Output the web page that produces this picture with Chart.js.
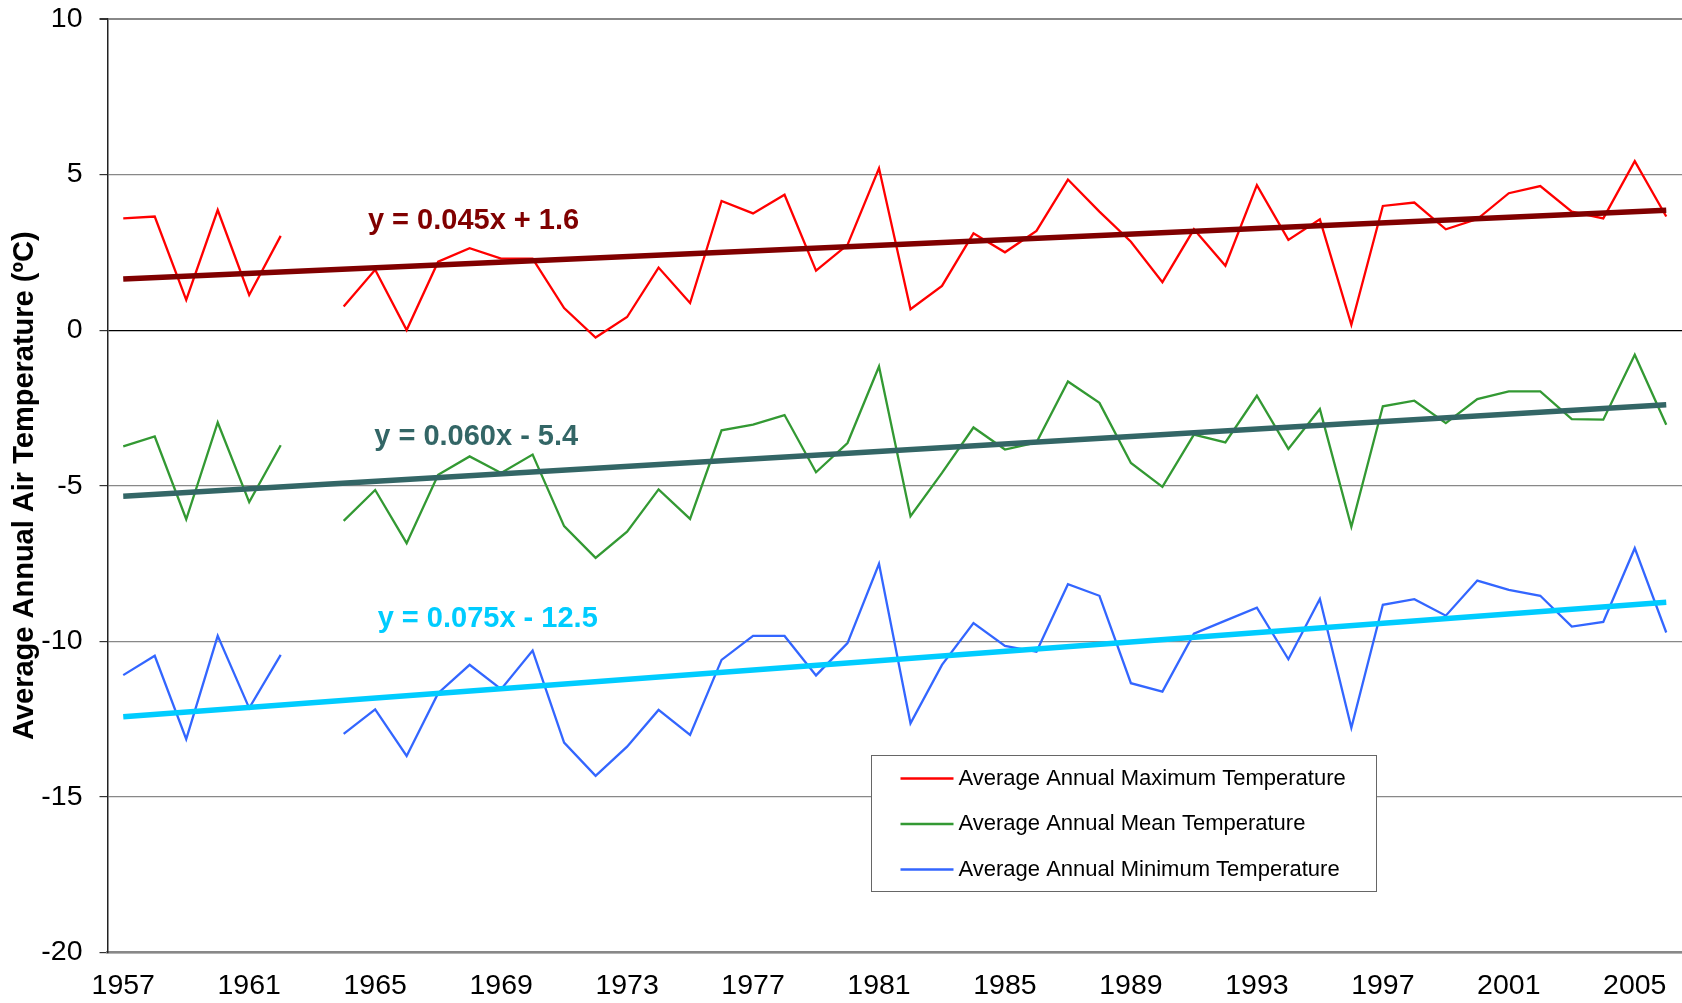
<!DOCTYPE html>
<html>
<head>
<meta charset="utf-8">
<script src="https://cdn.jsdelivr.net/npm/chart.js@4/dist/chart.umd.min.js"></script>
<style>
  html, body { margin: 0; padding: 0; background: #fff; }
  #wrap { width: 1682px; height: 1003px; position: relative; }
</style>
</head>
<body>
<div id="wrap"><canvas id="tempChart"></canvas></div>
<script>
// years on the category axis (1963 has no data)
const years = [1957, 1958, 1959, 1960, 1961, 1962, 1963, 1964, 1965, 1966,
  1967, 1968, 1969, 1970, 1971, 1972, 1973, 1974, 1975, 1976,
  1977, 1978, 1979, 1980, 1981, 1982, 1983, 1984, 1985, 1986,
  1987, 1988, 1989, 1990, 1991, 1992, 1993, 1994, 1995, 1996,
  1997, 1998, 1999, 2000, 2001, 2002, 2003, 2004, 2005, 2006];
const xTickLabels = ['1957', '1961', '1965', '1969', '1973', '1977', '1981', '1985', '1989', '1993', '1997', '2001', '2005'];

const maxTemp = [3.59, 3.65, 0.97, 3.86, 1.13, 3.03, null, 0.76, 1.94, 0.0,
  2.20, 2.63, 2.30, 2.30, 0.71, -0.24, 0.42, 2.01, 0.87, 4.15,
  3.75, 4.35, 1.91, 2.74, 5.20, 0.67, 1.42, 3.11, 2.50, 3.19,
  4.84, 3.81, 2.84, 1.54, 3.24, 2.07, 4.66, 2.90, 3.56, 0.17,
  3.99, 4.10, 3.24, 3.57, 4.40, 4.63, 3.81, 3.59, 5.43, 3.65];
const meanTemp = [-3.74, -3.42, -6.08, -2.97, -5.53, -3.70, null, -6.13, -5.14, -6.85,
  -4.65, -4.06, -4.59, -4.00, -6.30, -7.32, -6.48, -5.12, -6.07, -3.22,
  -3.04, -2.73, -4.57, -3.63, -1.17, -5.98, -4.59, -3.13, -3.84, -3.61,
  -1.65, -2.34, -4.27, -5.04, -3.36, -3.61, -2.11, -3.82, -2.54, -6.32,
  -2.45, -2.27, -2.99, -2.22, -1.97, -1.97, -2.86, -2.88, -0.79, -3.04];
const minTemp = [-11.09, -10.47, -13.15, -9.83, -12.15, -10.44, null, -12.98, -12.19, -13.69,
  -11.67, -10.76, -11.54, -10.30, -13.26, -14.33, -13.39, -12.21, -13.01, -10.60,
  -9.83, -9.83, -11.10, -10.06, -7.51, -12.64, -10.76, -9.42, -10.15, -10.34,
  -8.17, -8.54, -11.35, -11.62, -9.76, -9.34, -8.92, -10.58, -8.64, -12.78,
  -8.83, -8.65, -9.18, -8.05, -8.35, -8.54, -9.53, -9.38, -7.01, -9.72];

// linear trends, x = 1 for 1957
const trendSlope = [0.045, 0.060, 0.075];
const trendIntercept = [1.6, -5.4, -12.5];
const trendText = ['y = 0.045x + 1.6', 'y = 0.060x - 5.4', 'y = 0.075x - 12.5'];

const seriesNames = ['Average Annual Maximum Temperature', 'Average Annual Mean Temperature', 'Average Annual Minimum Temperature'];
const lineColors = ['#ff0000', '#339933', '#3366ff'];
const trendColors = ['#800000', '#336666', '#00ccff'];

function trendData(k) {
  // only the two ends, the line in between is straight
  const arr = years.map(() => null);
  const n = years.length;
  arr[0] = trendSlope[k] * 1 + trendIntercept[k];
  arr[n - 1] = trendSlope[k] * n + trendIntercept[k];
  return arr;
}

Chart.defaults.font.family = "'Liberation Sans', Arial, sans-serif";
Chart.defaults.color = '#000';

const trendLabels = {
  id: 'trendLabels',
  afterDatasetsDraw(chart) {
    const c = chart.ctx;
    const xs = chart.scales.x, ys = chart.scales.y;
    // anchor: [category index, value]
    const spots = [[7.77, 3.52], [7.97, -3.45], [8.08, -9.28]];
    c.save();
    c.font = "bold 29px 'Liberation Sans', Arial, sans-serif";
    c.textBaseline = 'middle';
    c.textAlign = 'left';
    spots.forEach((s, k) => {
      c.fillStyle = trendColors[k];
      c.fillText(trendText[k], xs.getPixelForValue(s[0]), ys.getPixelForValue(s[1]));
    });
    c.restore();

    // legend box
    const bx = 871.5, by = 755.5, bw = 505, bh = 136;
    c.save();
    c.fillStyle = '#fff';
    c.fillRect(bx, by, bw, bh);
    c.strokeStyle = '#666';
    c.lineWidth = 1;
    c.strokeRect(bx, by, bw, bh);
    c.font = "22px 'Liberation Sans', Arial, sans-serif";
    c.textBaseline = 'middle';
    seriesNames.forEach((name, k) => {
      const yy = by + 23 + k * 45.5;
      c.strokeStyle = lineColors[k];
      c.lineWidth = 2.5;
      c.beginPath();
      c.moveTo(bx + 29, yy);
      c.lineTo(bx + 82, yy);
      c.stroke();
      c.fillStyle = '#000';
      c.fillText(name, bx + 87, yy);
    });
    c.restore();
  }
};

const datasets = [];
trendColors.forEach((col, k) => {
  datasets.push({
    label: 'trend ' + k,
    data: trendData(k),
    borderColor: col,
    borderWidth: 5.5,
    pointRadius: 0,
    spanGaps: true,
    order: 0
  });
});
[maxTemp, meanTemp, minTemp].forEach((vals, k) => {
  datasets.push({
    label: seriesNames[k],
    data: vals,
    borderColor: lineColors[k],
    borderWidth: 2.3,
    pointRadius: 0,
    tension: 0,
    spanGaps: false,
    order: 1
  });
});

const ctx = document.getElementById('tempChart').getContext('2d');
const tempChart = new Chart(ctx, {
  type: 'line',
  data: { labels: years.map(String), datasets: datasets },
  options: {
    responsive: true,
    maintainAspectRatio: false,
    animation: false,
    layout: { padding: { top: 19, right: 0, bottom: 0, left: 0 } },
    plugins: {
      legend: { display: false },
      tooltip: { enabled: false }
    },
    scales: {
      x: {
        type: 'category',
        offset: true,
        grid: { display: true, drawOnChartArea: false, drawTicks: false },
        border: { display: true, color: '#888', width: 2.5 },
        ticks: {
          autoSkip: false,
          maxRotation: 0,
          padding: 17,
          font: { size: 28.5 },
          callback: function (v, i) {
            const lab = String(years[i]);
            return xTickLabels.includes(lab) ? lab : '';
          }
        },
        afterFit: function (s) { s.height = 50.7; s.paddingLeft = 0; s.paddingRight = 0; }
      },
      y: {
        min: -20,
        max: 10,
        ticks: { stepSize: 5, padding: 17, font: { size: 28.5 } },
        grid: {
          color: c => (c.tick && c.tick.value === 0) ? '#000' : '#888',
          lineWidth: c => (c.tick && c.tick.value === 10) ? 2 : 1.2,
          tickLength: 8,
          tickColor: '#333'
        },
        border: { display: true, color: '#222', width: 1.5 },
        title: {
          display: true,
          text: 'Average Annual Air Temperature (ºC)',
          font: { size: 29, weight: 'bold' },
          padding: { top: 8, bottom: 0 }
        },
        afterFit: function (s) { s.width = 107.5; s.paddingTop = 0; s.paddingBottom = 0; }
      }
    }
  },
  plugins: [trendLabels]
});
</script>
</body>
</html>
